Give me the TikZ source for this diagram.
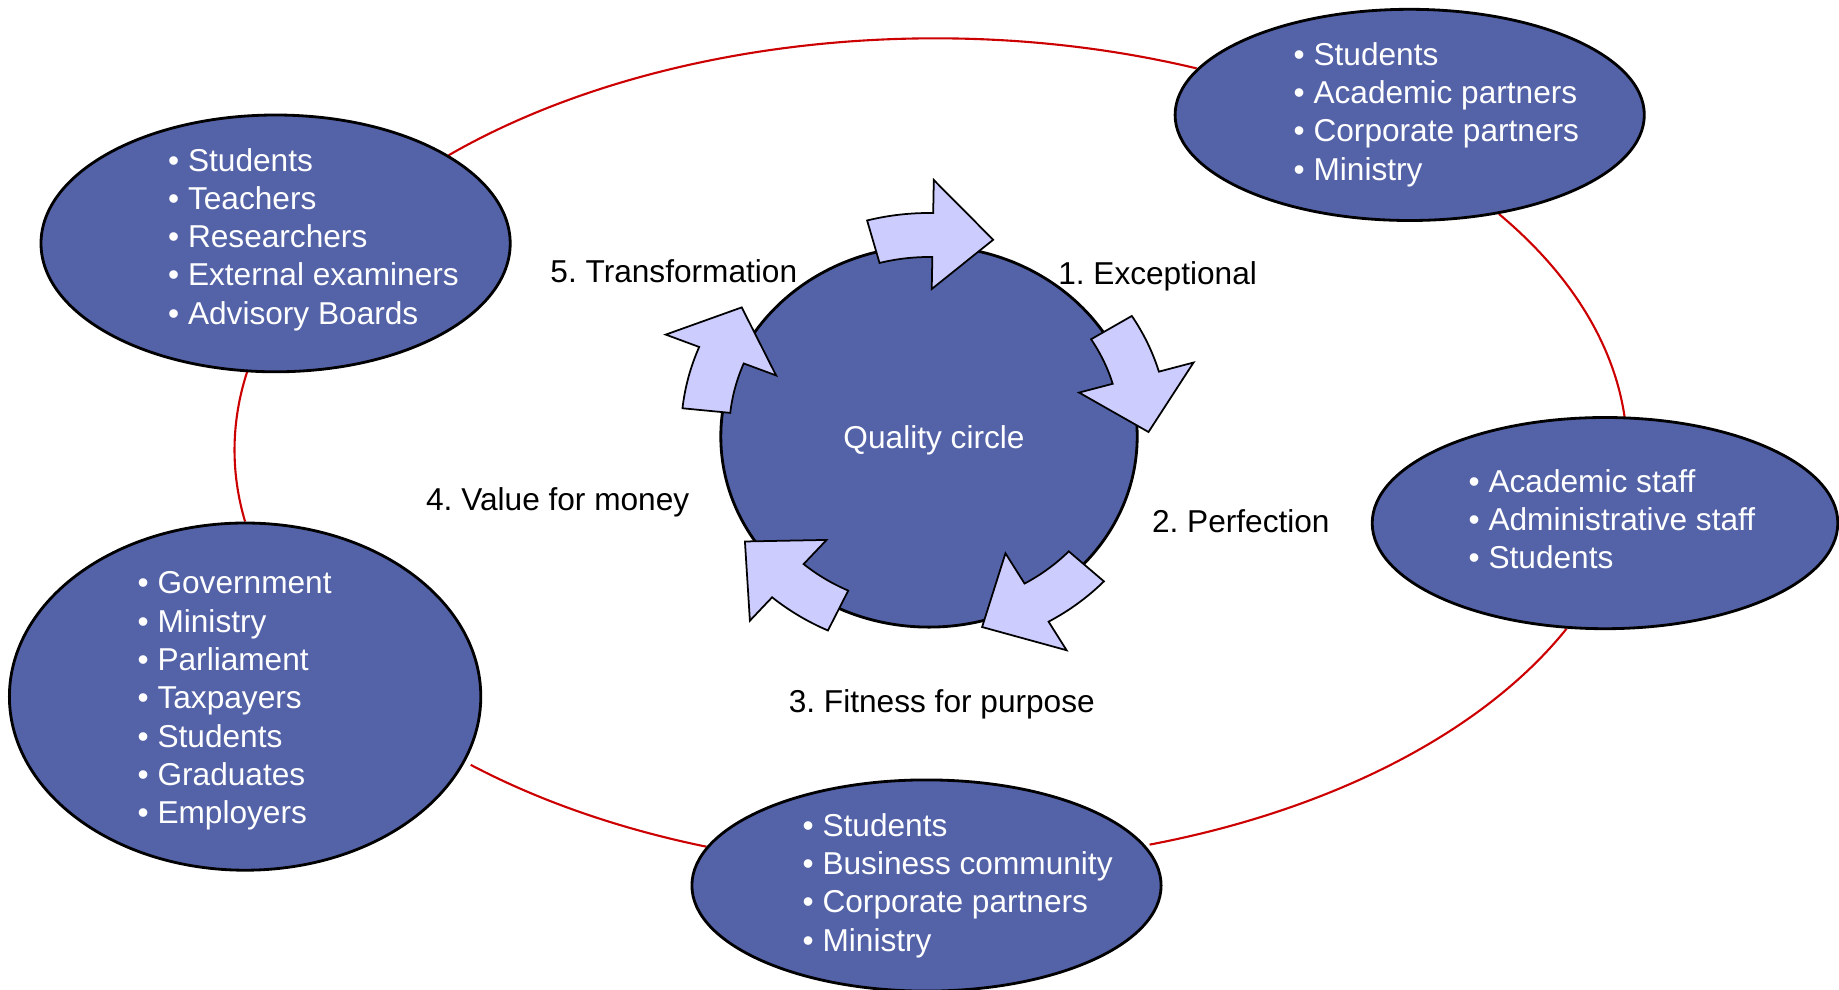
\documentclass[tikz,border=0pt]{standalone}
\usepackage{fontspec}
\setmainfont{Liberation Sans}
\usepackage{tikz}
\usetikzlibrary{arrows,shapes,backgrounds}
\frenchspacing

\begin{document}
\begin{tikzpicture}[
  every node/.style={font=\fontsize{9}{10.9}\selectfont},
  group/.style={ellipse,draw=black,line width=0.8pt,fill=cgroup,inner sep=0pt},
  members/.style={anchor=west,align=left,inner sep=0pt,text=white},
  stage/.style={inner sep=0pt,text=black},
  link/.style={draw=clink,line width=0.6pt},
  turn/.style={draw=black,line width=0.5pt,fill=cturn,line join=miter}
]
%
\useasboundingbox (0,0) rectangle (18.39cm,9.89cm);
%
\definecolor{cgroup}{rgb}{0.33,0.39,0.66}
\definecolor{cturn}{rgb}{0.8,0.8,1.0}
\definecolor{clink}{rgb}{0.8,0.0,0.0}
%
\node[group,minimum width=4.164cm,minimum height=3.812cm,label={[text=white,xshift=0.05cm,yshift=-0.035cm]center:Quality circle}] (v0) at (9.29cm,5.525cm) {};
\node[group,minimum width=4.692cm,minimum height=2.112cm] (v1) at (14.097cm,8.741cm) {};
\node[group,minimum width=4.656cm,minimum height=2.112cm] (v2) at (16.05cm,4.659cm) {};
\node[group,minimum width=4.692cm,minimum height=2.112cm] (v3) at (9.265cm,1.035cm) {};
\node[group,minimum width=4.714cm,minimum height=3.472cm] (v4) at (2.451cm,2.924cm) {};
\node[group,minimum width=4.692cm,minimum height=2.568cm] (v5) at (2.756cm,7.456cm) {};
%
\node[members] (t1) at (12.93cm,8.746cm) {• Students\\• Academic partners\\• Corporate partners\\• Ministry};
\node[members] (t2) at (14.68cm,4.70cm) {• Academic staff\\• Administrative staff\\• Students};
\node[members] (t3) at (8.02cm,1.035cm) {• Students\\• Business community\\• Corporate partners\\• Ministry};
\node[members] (t4) at (1.37cm,2.88cm) {• Government\\• Ministry\\• Parliament\\• Taxpayers\\• Students\\• Graduates\\• Employers};
\node[members] (t5) at (1.675cm,7.495cm) {• Students\\• Teachers\\• Researchers\\• External examiners\\• Advisory Boards};
%
\node[stage] (s1) at (11.576cm,7.125cm) {1. Exceptional};
\node[stage] (s2) at (12.408cm,4.676cm) {2. Perfection};
\node[stage] (s3) at (9.418cm,2.847cm) {3. Fitness for purpose};
\node[stage] (s4) at (5.577cm,4.864cm) {4. Value for money};
\node[stage] (s5) at (6.738cm,7.174cm) {5. Transformation};
%
\begin{scope}[shift={(9.29cm,5.57cm)},xscale=1.092]
\draw[turn] (105:2.19) arc[start angle=105,end angle=89,radius=2.19] -- (89:2.52) -- (73:2.01) -- (89:1.43) -- (89:1.75) arc[start angle=89,end angle=105,radius=1.75] -- cycle;
\draw[turn] (32:2.19) arc[start angle=32,end angle=16,radius=2.19] -- (16:2.52) -- (0:2.01) -- (16:1.43) -- (16:1.75) arc[start angle=16,end angle=32,radius=1.75] -- cycle;
\draw[turn] (-43:2.19) arc[start angle=-43,end angle=-60,radius=2.19] -- (-60:2.52) -- (-76:2.01) -- (-60:1.40) -- (-60:1.75) arc[start angle=-60,end angle=-43,radius=1.75] -- cycle;
\draw[turn] (-115:2.19) arc[start angle=-115,end angle=-131,radius=2.19] -- (-131:2.50) -- (-147:2.01) -- (-131:1.43) -- (-131:1.75) arc[start angle=-131,end angle=-115,radius=1.75] -- cycle;
\draw[turn] (174:2.27) arc[start angle=174,end angle=158,radius=2.27] -- (158:2.60) -- (144:2.12) -- (158:1.51) -- (158:1.83) arc[start angle=158,end angle=174,radius=1.83] -- cycle;
\end{scope}
%
\begin{scope}[on background layer]
\draw[link] (v5.27) arc[start angle=134.2,end angle=68,x radius=6.978cm,y radius=4.128cm];
\draw[link] (v1.-48) arc[start angle=35.3,end angle=4.6,x radius=6.978cm,y radius=4.128cm];
\draw[link] (v2.-110) arc[start angle=-25.4,end angle=-72.2,x radius=6.978cm,y radius=4.128cm];
\draw[link] (v3.170) arc[start angle=-109.1,end angle=-131.7,x radius=6.978cm,y radius=4.128cm];
\draw[link] (v4.90) arc[start angle=190,end angle=168.8,x radius=6.978cm,y radius=4.128cm];
\end{scope}
%
\end{tikzpicture}
\end{document}
